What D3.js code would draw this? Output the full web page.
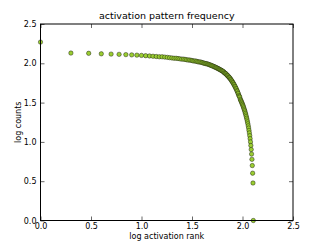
<!DOCTYPE html>
<html>
<head>
<meta charset="utf-8"/>
<script src="https://d3js.org/d3.v7.min.js"></script>
<style>
body { margin: 0; background: #fff; }
text { font-family: "DejaVu Sans", sans-serif; fill: #000; }
.frame { fill: none; stroke: #000; stroke-width: 1px; }
.tick line { stroke: #000; }
.dot { fill: #9acd32; stroke: #000; stroke-width: .4px; }
</style>
</head>
<body>
<script>

var width = 327, height = 245;
var margin = {left: 40.5, right: 34, top: 24, bottom: 24.5};

// pattern counts, sorted by rank (rank 1 .. 128)
var counts = [186, 135, 134, 132, 131, 130, 129, 128, 127, 126,
  125, 124, 123, 122, 121, 121, 120, 119, 118, 117,
  116, 116, 115, 114, 113, 113, 112, 111, 110, 110,
  109, 108, 107, 107, 106, 105, 104, 104, 103, 102,
  101, 100, 99, 99, 98, 97, 96, 95, 94, 93,
  92, 91, 90, 89, 88, 87, 86, 85, 84, 83,
  82, 81, 80, 79, 78, 76, 75, 74, 73, 71,
  70, 69, 67, 66, 65, 63, 62, 60, 59, 57,
  56, 54, 53, 51, 50, 48, 47, 45, 44, 42,
  41, 39, 38, 37, 35, 34, 33, 32, 31, 30,
  29, 28, 27, 26, 25, 24, 23, 22, 21, 20,
  19, 18, 17, 16, 15, 14, 13, 12, 11, 10,
  9, 8, 7, 6, 5, 4, 3, 1];

var xTicks = [0, 0.5, 1.0, 1.5, 2.0, 2.5];
var yTicks = [0, 0.5, 1.0, 1.5, 2.0, 2.5];

var svg = d3.select("body").append("svg")
    .attr("width", width)
    .attr("height", height);

var x = d3.scaleLinear().domain([0, 2.5]).range([margin.left, width - margin.right]);
var y = d3.scaleLinear().domain([0, 2.5]).range([height - margin.bottom, margin.top]);

var fmt = d3.format(".1f");

// ticks point inwards on all four sides
svg.append("g")
    .attr("transform", "translate(0," + y(0) + ")")
    .call(d3.axisBottom(x).tickValues(xTicks).tickFormat(fmt).tickSizeInner(-4).tickSizeOuter(0).tickPadding(3))
    .call(g => g.select(".domain").remove())
    .selectAll("text").style("font-size", "8px");

svg.append("g")
    .attr("transform", "translate(0," + y(2.5) + ")")
    .call(d3.axisTop(x).tickValues(xTicks).tickFormat("").tickSizeInner(-4).tickSizeOuter(0))
    .call(g => g.select(".domain").remove());

svg.append("g")
    .attr("transform", "translate(" + x(0) + ",0)")
    .call(d3.axisLeft(y).tickValues(yTicks).tickFormat(fmt).tickSizeInner(-4).tickSizeOuter(0).tickPadding(4))
    .call(g => g.select(".domain").remove())
    .selectAll("text").style("font-size", "8px");

svg.append("g")
    .attr("transform", "translate(" + x(2.5) + ",0)")
    .call(d3.axisRight(y).tickValues(yTicks).tickFormat("").tickSizeInner(-4).tickSizeOuter(0))
    .call(g => g.select(".domain").remove());

svg.selectAll(".tick line").attr("stroke-width", 0.6);

svg.append("g")
  .selectAll("circle")
  .data(counts)
  .enter().append("circle")
    .attr("class", "dot")
    .attr("cx", (d, i) => x(Math.log10(i + 1)))
    .attr("cy", d => y(Math.log10(d)))
    .attr("r", 2.2);

svg.append("rect")
    .attr("class", "frame")
    .attr("x", x(0))
    .attr("y", y(2.5))
    .attr("width", x(2.5) - x(0))
    .attr("height", y(0) - y(2.5));

svg.append("text")
    .attr("x", (x(0) + x(2.5)) / 2)
    .attr("y", y(2.5) - 5)
    .attr("text-anchor", "middle")
    .style("font-size", "9.5px")
    .text("activation pattern frequency");

svg.append("text")
    .attr("x", (x(0) + x(2.5)) / 2)
    .attr("y", 239)
    .attr("text-anchor", "middle")
    .style("font-size", "8px")
    .text("log activation rank");

svg.append("text")
    .attr("transform", "translate(21," + ((y(0) + y(2.5)) / 2) + ") rotate(-90)")
    .attr("text-anchor", "middle")
    .style("font-size", "8px")
    .text("log counts");

</script>
</body>
</html>
